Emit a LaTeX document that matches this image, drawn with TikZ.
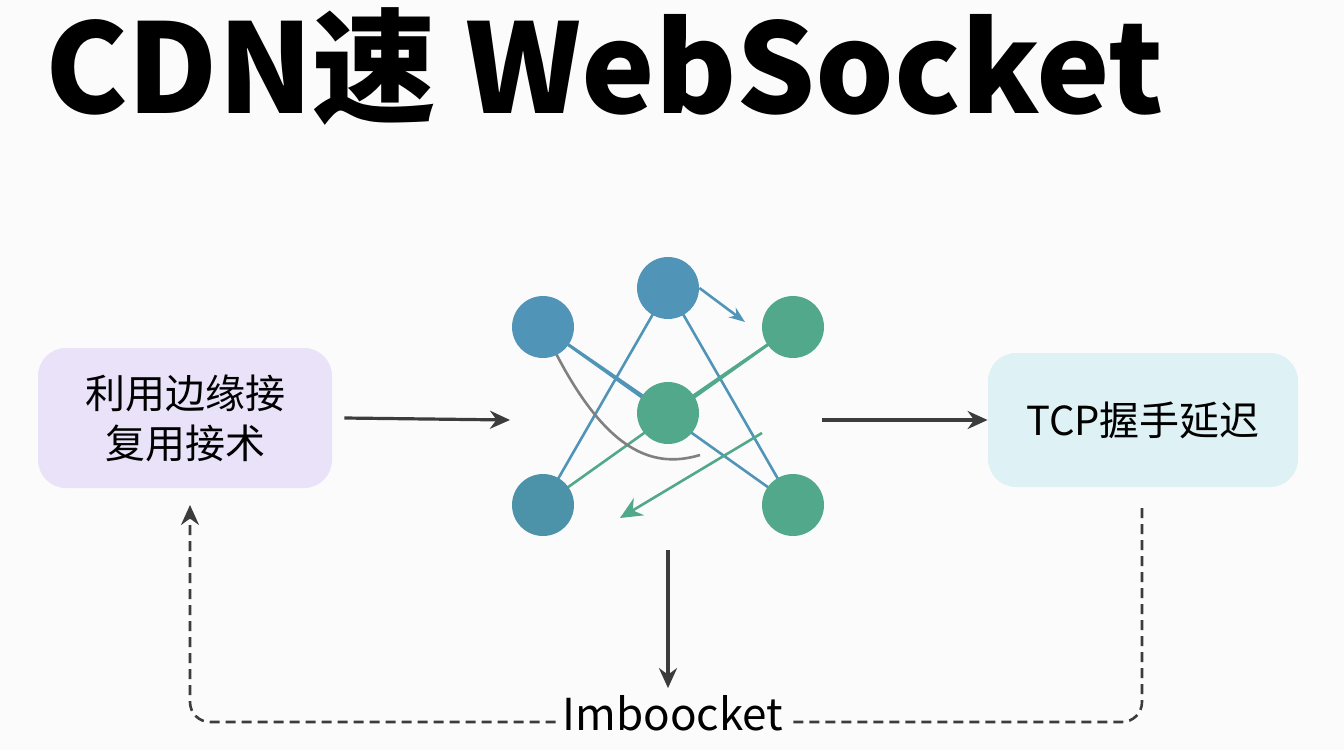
\documentclass[tikz,border=0pt]{standalone}
\usepackage{fontspec}
\setmainfont{Noto Sans CJK SC}
\usetikzlibrary{arrows.meta}
\definecolor{boxlilac}{RGB}{233,226,248}
\definecolor{boxcyan}{RGB}{222,241,244}
\definecolor{netblue}{RGB}{80,148,184}
\definecolor{netgreen}{RGB}{82,168,138}
\definecolor{netteal}{RGB}{76,146,168}
\definecolor{arrowgray}{RGB}{60,60,60}
\tikzset{
  box/.style={draw=none, rounded corners=14pt, align=center, font=\fontsize{20}{25}\selectfont},
  dot/.style={circle, minimum size=31pt, inner sep=0pt},
  flow/.style={-{Stealth[length=10pt,width=9pt]}, line width=1.6pt, arrowgray},
  link/.style={line width=1.3pt}
}
\begin{document}
\begin{tikzpicture}[x=0.5pt,y=-0.5pt]
\useasboundingbox[fill=white!97!gray] (0,0) rectangle (1344,750);
% Title
\node[anchor=west, font=\fontsize{62}{62}\selectfont\bfseries] (title) at (38,66) {CDN速 WebSocket};

% Side boxes
\node[box, fill=boxlilac, minimum width=147pt, minimum height=70pt] (reuse) at (185,418) {利用边缘接\\复用接术};
\node[box, fill=boxcyan, minimum width=155pt, minimum height=67pt] (tcp) at (1143,420) {TCP握手延迟};

% Network
\coordinate (ptop) at (668,288);
\coordinate (pleft) at (543,327);
\coordinate (pright) at (793,327);
\coordinate (pcenter) at (668,413);
\coordinate (pbl) at (543,505);
\coordinate (pbr) at (793,505);
\draw[link, netblue] (pleft) -- (pcenter);
\draw[link, netblue] (pleft) -- (pbr);
\draw[link, netblue] (ptop) -- (pbl);
\draw[link, netblue] (ptop) -- (pbr);
\draw[link, netgreen] (pright) -- (pbl);
\draw[link, netgreen] (pright) -- (pcenter);
\draw[link, gray] (pleft) .. controls (600,450) and (650,470) .. (700,455);
\node[dot, fill=netblue] (ntop) at (ptop) {};
\node[dot, fill=netblue] (nleft) at (pleft) {};
\node[dot, fill=netgreen] (nright) at (pright) {};
\node[dot, fill=netgreen] (ncenter) at (pcenter) {};
\node[dot, fill=netteal] (nbl) at (pbl) {};
\node[dot, fill=netgreen] (nbr) at (pbr) {};
\coordinate (tipA) at (745,322);
\coordinate (tailB) at (762,433);
\coordinate (tipB) at (620,518);
\draw[link, netblue, -{Stealth[length=8pt]}] (ntop.east) -- (tipA);
\draw[link, netgreen, -{Stealth[length=11pt,width=10pt]}] (tailB) -- (tipB);

% Flow
\coordinate (netin) at (510,420);
\coordinate (netout) at (822,420);
\coordinate (netdown) at (668,550);
\node[font=\fontsize{22}{22}\selectfont] (sock) at (673,713) {Imboocket};
\draw[flow] (reuse.east) ++(12,0) -- (netin);
\draw[flow] (netout) -- (tcp.west);
\draw[flow] (netdown) -- (netdown |- sock.north);

% Loop back
\coordinate (tcpdown) at (1142,508);
\coordinate (backup) at (190,505);
\draw[line width=1.3pt, arrowgray, dash pattern=on 5pt off 3pt, rounded corners=10pt] (tcpdown) -- (1142,722) -- (sock.east |- 0,722);
\draw[line width=1.3pt, arrowgray, dash pattern=on 5pt off 3pt, rounded corners=10pt, -{Stealth[length=10pt,width=9pt]}] (sock.west |- 0,722) -- (190,722) -- (backup);
\end{tikzpicture}
\end{document}
